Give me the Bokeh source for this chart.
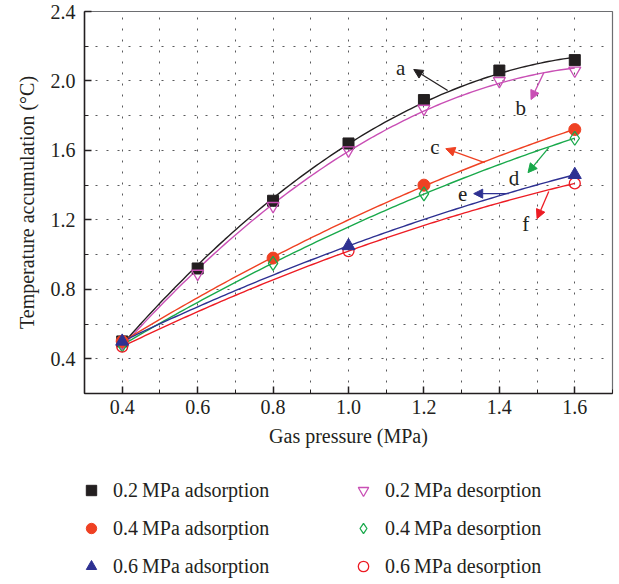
import numpy as np
from bokeh.plotting import figure
from bokeh.layouts import column
from bokeh.models import (Legend, LegendItem, Arrow, NormalHead, FixedTicker,
                          PrintfTickFormatter)
from bokeh.core.properties import value
from bokeh.embed import file_html
from bokeh.resources import INLINE

# Gas pressure (MPa) sampled at each step size
p_02 = [0.4, 0.6, 0.8, 1.0, 1.2, 1.4, 1.6]
p_04 = [0.4, 0.8, 1.2, 1.6]
p_06 = [0.4, 1.0, 1.6]

# Temperature accumulation (°C)
ads_02 = [0.50, 0.92, 1.31, 1.64, 1.89, 2.06, 2.12]
des_02 = [0.49, 0.89, 1.28, 1.60, 1.84, 2.00, 2.06]
ads_04 = [0.50, 0.98, 1.40, 1.72]
des_04 = [0.48, 0.95, 1.35, 1.67]
ads_06 = [0.50, 1.05, 1.46]
des_06 = [0.47, 1.02, 1.41]

# axis ticks
x_ticks = [0.4, 0.6, 0.8, 1.0, 1.2, 1.4, 1.6]
x_minor = [0.3, 0.5, 0.7, 0.9, 1.1, 1.3, 1.5, 1.7]
y_ticks = [0.4, 0.8, 1.2, 1.6, 2.0, 2.4]
y_minor = [0.2, 0.6, 1.0, 1.4, 1.8, 2.2]

labels = ["0.2\u2009MPa adsorption", "0.2\u2009MPa desorption",
          "0.4\u2009MPa adsorption", "0.4\u2009MPa desorption",
          "0.6\u2009MPa adsorption", "0.6\u2009MPa desorption"]

# curve tags with arrow (tail on curve -> head) and tag text position
tags = ["a", "b", "c", "d", "e", "f"]
tag_xy = [(1.138, 2.077), (1.457, 1.847), (1.229, 1.622), (1.439, 1.443), (1.303, 1.351), (1.470, 1.178)]
arrow_from = [(1.263, 1.945), (1.518, 2.048), (1.361, 1.530), (1.531, 1.616), (1.425, 1.351), (1.531, 1.363)]
arrow_to = [(1.173, 2.066), (1.484, 1.893), (1.258, 1.610), (1.476, 1.472), (1.332, 1.351), (1.500, 1.207)]

FONT = "Liberation Serif"
INK = "#231f20"
BLACK, MAGENTA, ORANGE, GREEN, BLUE, RED = "#231f20", "#c94fb5", "#ef4123", "#19a94b", "#2e3192", "#ed1c24"

p = figure(width=619, height=460, x_range=(0.3, 1.7), y_range=(0.2, 2.4),
           output_backend="svg", toolbar_location=None,
           min_border_left=84, min_border_right=7, min_border_top=11, min_border_bottom=67)

p.outline_line_color = "#6d6e71"
p.outline_line_width = 1.2
p.background_fill_color = "white"
p.border_fill_color = "white"

# axes
p.xaxis.ticker = FixedTicker(ticks=x_ticks, minor_ticks=x_minor)
p.yaxis.ticker = FixedTicker(ticks=y_ticks, minor_ticks=y_minor)
p.xaxis.formatter = PrintfTickFormatter(format="%.1f")
p.yaxis.formatter = PrintfTickFormatter(format="%.1f")
for ax in (p.xaxis, p.yaxis):
    ax.axis_line_color = INK
    ax.axis_line_width = 1.5
    ax.major_tick_in = 7
    ax.major_tick_out = 0
    ax.minor_tick_in = 4
    ax.minor_tick_out = 0
    ax.major_tick_line_color = INK
    ax.minor_tick_line_color = INK
    ax.major_tick_line_width = 1.5
    ax.major_label_text_font = FONT
    ax.major_label_text_font_size = "20px"
    ax.major_label_text_color = INK
    ax.axis_label_text_font = FONT
    ax.axis_label_text_font_size = "20px"
    ax.axis_label_text_font_style = "normal"
    ax.axis_label_text_color = INK
p.xaxis.axis_label = "Gas pressure (MPa)"
p.yaxis.axis_label = "Temperature accumulation (\u00b0C)"
p.xaxis.major_label_standoff = 6
p.yaxis.major_label_standoff = 9
p.xaxis.axis_label_standoff = 8
p.yaxis.axis_label_standoff = 10

# dotted grid at major and minor positions
for g in (p.xgrid, p.ygrid):
    g.grid_line_color = "#58595b"
    g.grid_line_dash = "2 9"
    g.grid_line_width = 1
    g.minor_grid_line_color = "#58595b"
    g.minor_grid_line_dash = "2 9"
    g.minor_grid_line_width = 1

series = [
    (p_02, ads_02, BLACK, "square", True, 11),
    (p_02, des_02, MAGENTA, "inverted_triangle", False, 12),
    (p_04, ads_04, ORANGE, "circle", True, 12),
    (p_04, des_04, GREEN, "diamond", False, 14),
    (p_06, des_06, RED, "circle", False, 11),
    (p_06, ads_06, BLUE, "triangle", True, 13),
]

# quadratic fit lines through each series
xs_fit = np.linspace(0.4, 1.6, 120)
for xs, ys, col, _, _, _ in series:
    coef = np.polyfit(xs, ys, 2)
    p.line(xs_fit, np.polyval(coef, xs_fit), line_color=col, line_width=1.4)

for xs, ys, col, marker, filled, size in series:
    p.scatter(xs, ys, marker=marker, size=size,
              fill_color=col if filled else None,
              line_color=col, line_width=1.3 if not filled else 1)

# curve tags
tag_cols = [BLACK, MAGENTA, ORANGE, GREEN, BLUE, RED]
for (x0, y0), (x1, y1), col in zip(arrow_from, arrow_to, tag_cols):
    p.add_layout(Arrow(end=NormalHead(size=9, fill_color=col, line_color=col),
                       x_start=x0, y_start=y0, x_end=x1, y_end=y1,
                       line_color=col, line_width=1.3))
p.text([xy[0] for xy in tag_xy], [xy[1] for xy in tag_xy], text=tags,
       text_font=value(FONT), text_font_size="21px", text_color=INK,
       text_align="center", text_baseline="middle")

# legend strip under the chart; its series renderers are kept hidden so only
# the legend entries show
lf = figure(width=619, height=124, x_axis_type=None, y_axis_type=None,
            output_backend="svg", toolbar_location=None, min_border=0,
            outline_line_color=None)
lf.grid.visible = False
legend_series = [(p_02, ads_02, BLACK, "square", True), (p_02, des_02, MAGENTA, "inverted_triangle", False),
                 (p_04, ads_04, ORANGE, "circle", True), (p_04, des_04, GREEN, "diamond", False),
                 (p_06, ads_06, BLUE, "triangle", True), (p_06, des_06, RED, "circle", False)]
items = []
for lab, (xs, ys, col, marker, filled) in zip(labels, legend_series):
    r = lf.scatter(xs, ys, marker=marker, fill_color=col if filled else None,
                   line_color=col, line_width=1.3 if not filled else 1, visible=False)
    items.append(LegendItem(label=lab, renderers=[r]))
# columns fill top to bottom: adsorption first, then desorption
items = items[0::2] + items[1::2]
legend = Legend(items=items, ncols=2, location=(-6, 5),
                label_text_font=FONT, label_text_font_size="20px", label_text_color=INK,
                glyph_width=26, glyph_height=26, label_standoff=9, label_width=225,
                spacing=12, padding=0, margin=0, border_line_color=None,
                background_fill_alpha=0, inactive_fill_alpha=0)
lf.add_layout(legend, "center")

open("out.html", "w").write(file_html(column(p, lf), INLINE))
